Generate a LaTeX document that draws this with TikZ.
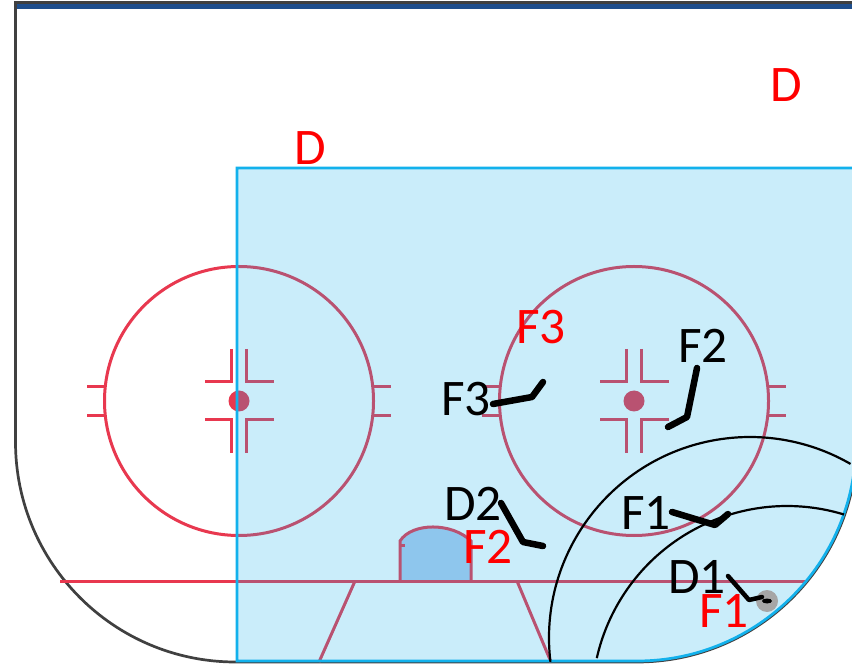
\documentclass[tikz,border=0pt]{standalone}
\usepackage{fontspec}
\setmainfont{Carlito}
\definecolor{rinkred}{HTML}{E8384F}
\definecolor{zoneblue}{HTML}{12B1EC}
\definecolor{creaseblue}{HTML}{B2CDEE}
\definecolor{topblue}{HTML}{1F4E8C}
\definecolor{puckgrey}{HTML}{A6A6A6}
\tikzset{
  redline/.style={draw=rinkred,line width=.03cm},
  arcline/.style={draw=black,line width=.022cm},
  stick/.style={draw=black,line width=.065cm,line cap=round,line join=round},
  black label/.style={inner sep=0pt,text=black,font=\fontsize{14.6}{16}\selectfont},
  red label/.style={black label,text=red},
}
\begin{document}
\begin{tikzpicture}
\useasboundingbox (0,0) rectangle (8.52,6.64);
\clip (0,0) rectangle (8.52,6.64);
\fill[white] (0,0) rectangle (8.52,6.64);

% rink
\fill[topblue] (.15,6.545) rectangle (8.52,6.6);
\draw[draw=black!75,line width=.027cm] (8.52,6.615) -- (.155,6.615) -- (.155,2.22)
    arc (180:270:2.2) -- (6.37,.02) arc (270:360:2.2);

% crease
\filldraw[redline,fill=creaseblue] (4.00,.83) -- (4.00,1.23)
    .. controls (4.12,1.417) and (4.52,1.417) .. (4.71,1.23) -- (4.71,.83);
\draw[redline] (4.00,1.19) -- +(.05,0);
\draw[redline] (.60,.83) -- (8.07,.83);
\draw[redline] (3.55,.83) -- (3.19,.02);
\draw[redline] (5.17,.83) -- (5.51,.02);

% faceoff circles
\foreach \cx/\nm in {2.39/left,6.34/right} {
  \draw[redline] (\cx,2.63) circle (1.345);
  \fill[rinkred] (\cx,2.63) circle (.105);
  \foreach \sx in {-1,1} {
    \draw[redline] (\cx+\sx*1.345,2.77) -- +(\sx*.175,0);
    \draw[redline] (\cx+\sx*1.345,2.48) -- +(\sx*.175,0);
    \draw[redline] (\cx+\sx*.075,3.15) -- (\cx+\sx*.075,2.82) -- (\cx+\sx*.345,2.82);
    \draw[redline] (\cx+\sx*.075,2.11) -- (\cx+\sx*.075,2.44) -- (\cx+\sx*.345,2.44);
  }
}

% zone
\filldraw[draw=zoneblue,line width=.027cm,fill=zoneblue,fill opacity=.22]
    (2.37,.03) -- (2.37,4.96) -- (8.6,4.96) -- (8.6,2.22) -- (8.56,2.22)
    arc (0:-90:2.19) -- cycle;

% arcs
\draw[arcline] (7.50,.26) ++(186.8:2.01) arc (186.8:60:2.01);
\draw[arcline] (7.87,-.37) ++(167.3:1.95) arc (167.3:73:1.95);

% puck
\fill[puckgrey] (7.67,.63) circle (.11);
\fill[black] (7.67,.63) ellipse (.05 and .025);

% players
\draw[stick] (4.93,2.60) -- (5.32,2.67) -- (5.43,2.82);
\draw[stick] (6.97,2.96) -- (6.87,2.47) -- (6.68,2.37);
\draw[stick] (6.72,1.52) -- (7.15,1.39) -- (7.28,1.50);
\draw[stick,line width=.045cm] (7.28,.88) -- (7.49,.64) -- (7.62,.67);
\draw[stick] (5.01,1.61) -- (5.23,1.22) -- (5.43,1.18);

\node[black label] (bF3) at (4.66,2.65) {F3};
\node[black label] (bF2) at (7.03,3.18) {F2};
\node[black label] (bF1) at (6.46,1.51) {F1};
\node[black label] (bD1) at (6.97,.87) {D1};
\node[black label] (bD2) at (4.73,1.60) {D2};

\node[red label] (rF3) at (5.41,3.37) {F3};
\node[red label] (rF2) at (4.88,1.17) {F2};
\node[red label] (rF1) at (7.24,.53) {F1};
\node[red label] (rDa) at (3.10,5.16) {D};
\node[red label] (rDb) at (7.86,5.79) {D};
\end{tikzpicture}
\end{document}
